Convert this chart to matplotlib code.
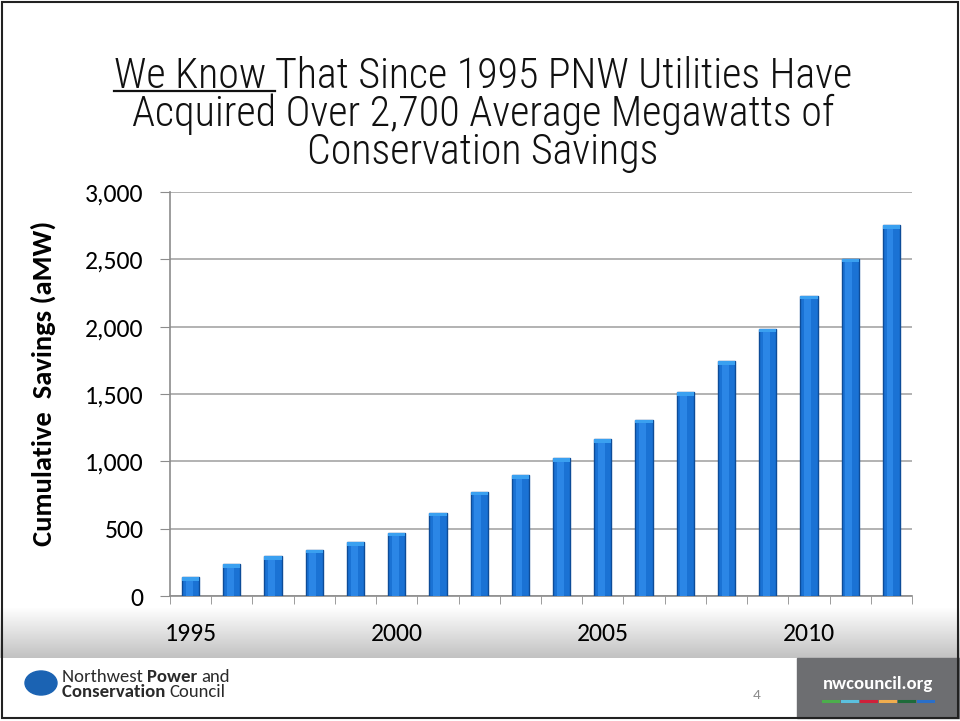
import numpy as np
import matplotlib
matplotlib.use("Agg")
import matplotlib.pyplot as plt
from matplotlib.patches import Rectangle, Circle
from matplotlib import font_manager

# 数据：1995-2012 年累计节能量 (aMW)
years = list(range(1995, 2013))
savings = [140, 235, 295, 345, 400, 470, 620, 775, 900, 1025,
           1165, 1310, 1515, 1745, 1985, 2230, 2505, 2755]
label_years = ["1995", "2000", "2005", "2010"]
ytick_values = [0, 500, 1000, 1500, 2000, 2500, 3000]
title_lines = ["That Since 1995 PNW Utilities Have",
               "Acquired Over 2,700 Average Megawatts of",
               "Conservation Savings"]
title_underlined = "We Know "

W, H = 960, 721

# 找出已安装的字体
installed = set(f.name for f in font_manager.fontManager.ttflist)


def pick(cands):
    return [c for c in cands if c in installed] + ['DejaVu Sans']


body_font = pick(['Carlito', 'Lato', 'Open Sans'])
title_font = pick(['Roboto Condensed', 'Open Sans Condensed', 'Liberation Sans Narrow',
                   'Archivo Narrow', 'Roboto'])
plt.rcParams['font.family'] = body_font

fig = plt.figure(figsize=(W / 100, H / 100), dpi=100)
fig.patch.set_facecolor("white")


def fx(px):
    return px / W


def fy(py):
    return 1 - py / H


# 底部灰色渐变背景
grad_ax = fig.add_axes([0, fy(658), 1, fy(608) - fy(658)], zorder=0)
grad = np.linspace(1.0, 0.0, 64).reshape(-1, 1)
grad_ax.imshow(grad, aspect="auto", cmap=matplotlib.colors.LinearSegmentedColormap.from_list(
    "g", ["#c2c2c2", "#ffffff"]), extent=[0, 1, 0, 1], vmin=0, vmax=1)
grad_ax.axis("off")

# 主图
ax = fig.add_axes([fx(170), fy(596), fx(912) - fx(170), fy(192) - fy(596)], zorder=2)
ax.patch.set_alpha(0)
x = np.arange(len(years))
bw = 0.42
ax.bar(x, savings, width=bw, color="#1a72d4", edgecolor="#0d4c98", linewidth=1.0, zorder=3)
# 柱体中间稍亮的竖条，模拟立体感
ax.bar(x - bw * 0.08, savings, width=bw * 0.4, color="#2b86e6", edgecolor="none", zorder=3.5)
# 柱顶浅色高光
top = np.array(savings)
ax.bar(x, np.full(len(years), 28), bottom=top - 28, width=bw, color="#3aa0f0",
       edgecolor="none", zorder=4)

ax.set_xlim(-0.5, len(years) - 0.5)
ax.set_ylim(0, 3000)
ax.set_yticks(ytick_values)
ax.set_yticklabels([f"{v:,}" for v in ytick_values], fontsize=18.5)
ax.yaxis.grid(True, color="#a6a6a6", linewidth=1.2, zorder=0)
ax.tick_params(axis="y", length=7, color="#8c8c8c", pad=12)

label_pos = [years.index(int(y)) for y in label_years]
ax.set_xticks(label_pos)
ax.set_xticklabels(label_years, fontsize=18.5)
ax.tick_params(axis="x", length=0, pad=19)
ax.set_xticks(np.arange(-0.5, len(years), 1.0), minor=True)
ax.tick_params(axis="x", which="minor", length=6, color="#8c8c8c")

for s in ["top", "right"]:
    ax.spines[s].set_visible(False)
for s in ["left", "bottom"]:
    ax.spines[s].set_color("#8c8c8c")
    ax.spines[s].set_linewidth(1.2)

fig.text(fx(43), fy(383), "Cumulative  Savings (aMW)", rotation=90, fontsize=20.5,
         fontweight="bold", ha="center", va="center")

# 标题（三行，首段带下划线）
fig.canvas.draw()
r = fig.canvas.get_renderer()


def width_px(s, size, **kw):
    t = fig.text(0, 0, s, fontsize=size, **kw)
    w = t.get_window_extent(r).width
    t.remove()
    return w


tkw = dict(family=title_font, fontweight="light")
full1 = title_underlined + title_lines[0]
tsize = 24 * 740 / width_px(full1, 24, **tkw)
w1 = width_px(full1, tsize, **tkw)
wu = width_px(title_underlined, tsize, **tkw)
left1 = 483 - w1 / 2
fig.text(fx(left1), fy(88), title_underlined, fontsize=tsize, ha="left", va="baseline",
         color="#111111", **tkw)
fig.text(fx(left1 + wu), fy(88), title_lines[0], fontsize=tsize, ha="left", va="baseline",
         color="#111111", **tkw)
fig.add_artist(plt.Line2D([fx(left1), fx(left1 + wu)], [fy(91), fy(91)], color="#111111", lw=1.6))
fig.text(fx(483), fy(126), title_lines[1], fontsize=tsize, ha="center", va="baseline",
         color="#111111", **tkw)
fig.text(fx(483), fy(164), title_lines[2], fontsize=tsize, ha="center", va="baseline",
         color="#111111", **tkw)

# 页脚
fig.add_artist(Rectangle((fx(797), fy(718)), 1 - fx(797), fy(658) - fy(718),
                         transform=fig.transFigure, color="#6d6e71", zorder=5))
fig.text(fx(878), fy(684), "nwcouncil.org", color="white", fontsize=13.5,
         fontweight="bold", ha="center", va="center", zorder=6)
dash_colors = ["#4cae4c", "#5bc0de", "#d0203a", "#f0ad4e", "#1e6b3a", "#2a6fc9"]
for i, c in enumerate(dash_colors):
    xs = 823 + i * 19
    fig.add_artist(plt.Line2D([fx(xs), fx(xs + 15)], [fy(701), fy(701)],
                              color=c, lw=2.2, zorder=6))
fig.text(fx(757), fy(695), "4", color="#8c8c8c", fontsize=11, ha="center", va="center")

fig.add_artist(Circle((fx(41), fy(683)), 16 / W, transform=fig.transFigure,
                      color="#1b63b3", zorder=5))
logo_rows = [(677, [("Northwest ", "normal"), ("Power ", "bold"), ("and", "normal")]),
             (692, [("Conservation ", "bold"), ("Council", "normal")])]
for py, parts in logo_rows:
    px = 62
    for s, wgt in parts:
        fig.text(fx(px), fy(py), s, fontsize=13.5, fontweight=wgt, color="#2a2a2a", va="center")
        px += width_px(s, 13.5, fontweight=wgt)

# 外框
fig.add_artist(Rectangle((0.002, 0.004), 0.996, 0.993, transform=fig.transFigure,
                         fill=False, edgecolor="#222222", lw=1.5, zorder=10))

fig.savefig("out.png", dpi=100)
